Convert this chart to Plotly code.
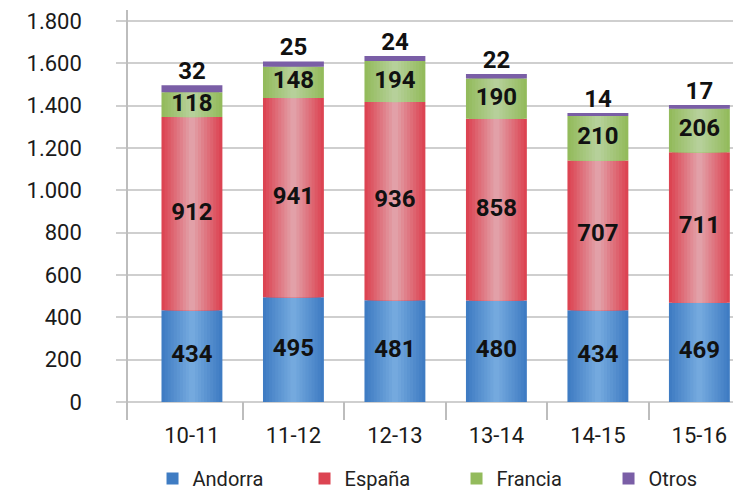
import plotly.graph_objects as go

# datos por temporada
temporadas = ['10-11', '11-12', '12-13', '13-14', '14-15', '15-16']
andorra = [434, 495, 481, 480, 434, 469]
espana = [912, 941, 936, 858, 707, 711]
francia = [118, 148, 194, 190, 210, 206]
otros = [32, 25, 24, 22, 14, 17]
y_ticks = [0, 200, 400, 600, 800, 1000, 1200, 1400, 1600, 1800]

# (borde, centro) para simular el degradado de las barras
colores = {
    'Andorra': ('#3f7cc3', '#74a9de'),
    'España': ('#dc4452', '#e2a0a8'),
    'Francia': ('#93bb5c', '#b6d09a'),
    'Otros': ('#7a5ea6', '#7a5ea6'),
}

series = [('Andorra', andorra), ('España', espana), ('Francia', francia), ('Otros', otros)]
x = list(range(len(temporadas)))
ancho = 0.6
capas = 10


def mezcla(c1, c2, t):
    a = [int(c1[i:i + 2], 16) for i in (1, 3, 5)]
    b = [int(c2[i:i + 2], 16) for i in (1, 3, 5)]
    return 'rgb(%d,%d,%d)' % tuple(round(a[j] + (b[j] - a[j]) * t) for j in range(3))


fig = go.Figure()

base = [0] * len(temporadas)
for nombre, valores in series:
    borde, centro = colores[nombre]
    n = 1 if nombre == 'Otros' else capas
    for k in range(n):
        t = k / (n - 1) if n > 1 else 0
        fig.add_trace(go.Bar(
            x=x, y=valores, base=base,
            width=ancho * (1 - k / n),
            marker=dict(color=mezcla(borde, centro, t), line=dict(width=0)),
            name=nombre, legendgroup=nombre, showlegend=(k == 0),
            hoverinfo='skip' if k else None,
        ))
    # etiquetas de valor
    if nombre == 'Otros':
        fig.add_trace(go.Scatter(
            x=x, y=[b + v for b, v in zip(base, valores)],
            mode='text', text=[str(v) for v in valores],
            textposition='top center',
            textfont=dict(family='Roboto', size=24, color='#111111', weight='bold'),
            showlegend=False, hoverinfo='skip'))
    else:
        fig.add_trace(go.Scatter(
            x=x, y=[b + v / 2 for b, v in zip(base, valores)],
            mode='text', text=[str(v) for v in valores],
            textposition='middle center',
            textfont=dict(family='Roboto', size=24, color='#111111', weight='bold'),
            showlegend=False, hoverinfo='skip'))
    base = [b + v for b, v in zip(base, valores)]

# la página añade 8px de margen al cuerpo, así que la figura es 8px más pequeña
fig.update_layout(
    barmode='overlay',
    width=733, height=483,
    margin=dict(l=120, r=0, t=2, b=71, autoexpand=False),
    paper_bgcolor='white',
    plot_bgcolor='white',
    separators=',.',
    font=dict(family='Roboto', size=22, color='#1a1a1a'),
    xaxis=dict(
        range=[-0.63, 5.41],
        tickvals=x, ticktext=temporadas,
        ticks='', showgrid=False, zeroline=False,
        tickfont=dict(size=22),
        minor=dict(tickvals=[i + 0.5 for i in x[:-1]], ticks='inside',
                   ticklen=18, tickcolor='#bdbdbd', tickwidth=1.5, showgrid=False),
    ),
    yaxis=dict(
        range=[-85, 1852],
        tickvals=y_ticks, tickformat=',',
        showgrid=True, gridcolor='#cfcfcf', gridwidth=1.5,
        zeroline=False,
        showline=True, linecolor='#bdbdbd', linewidth=1.5,
        ticks='outside', ticklen=10, tickcolor='#cfcfcf', tickwidth=1.5,
        ticklabelstandoff=30,
        tickfont=dict(size=22),
    ),
    legend=dict(
        orientation='h', x=0.04, xanchor='left', y=-0.19, yanchor='bottom',
        font=dict(size=20, color='#222222'),
        entrywidth=107, traceorder='normal', bgcolor='rgba(0,0,0,0)',
    ),
    showlegend=True,
)

fig.write_html('out.html')
